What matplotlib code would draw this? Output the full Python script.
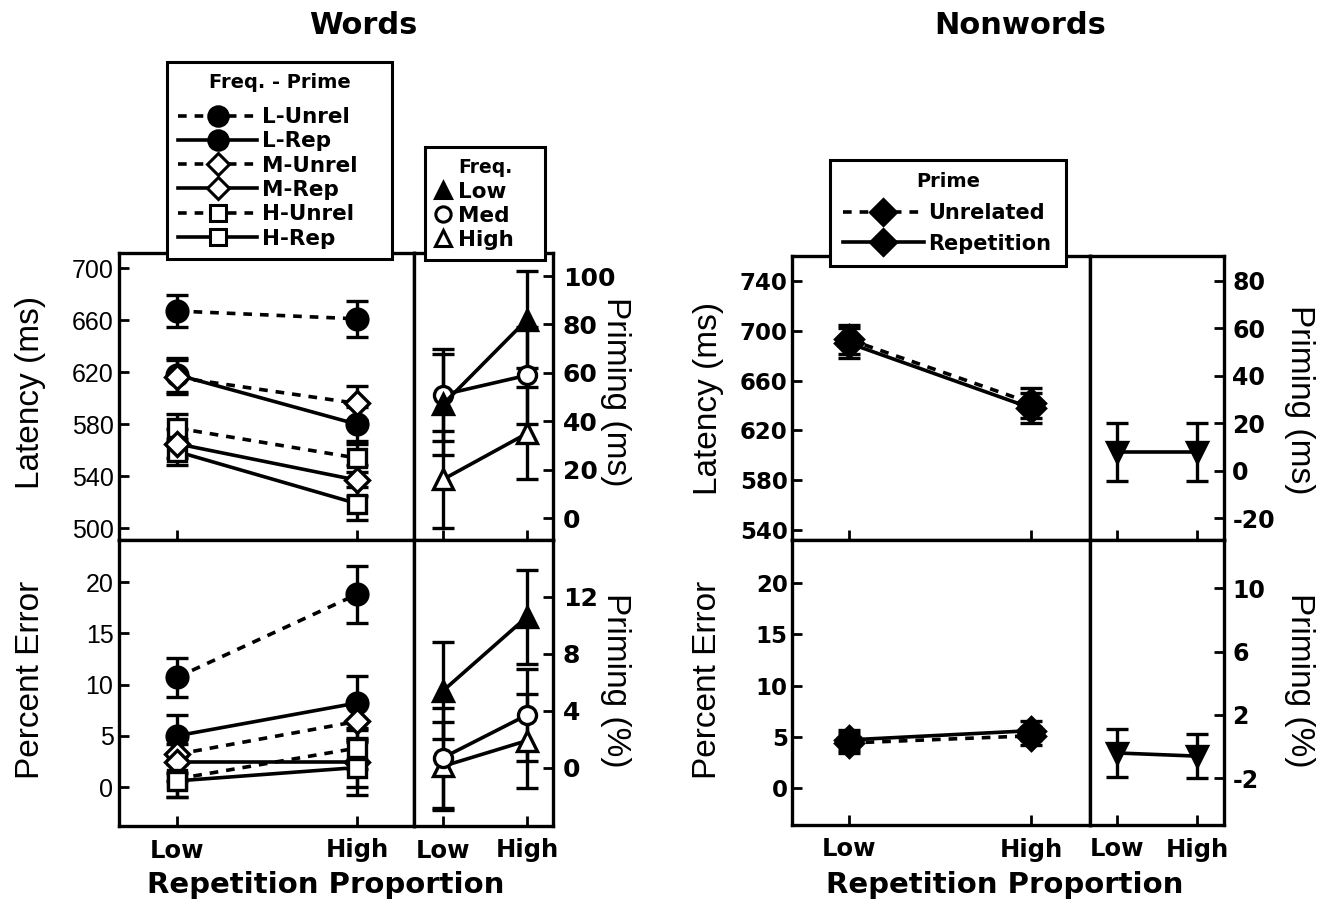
import numpy as np
import matplotlib.pyplot as plt
from matplotlib.lines import Line2D

plt.rcParams['font.family'] = ['DejaVu Sans']
plt.rcParams['font.weight'] = 'bold'
plt.rcParams['axes.unicode_minus'] = False

# x categories
x_labels = ["Low", "High"]
xpos = [0, 1]

# Words - latency (ms), mean and error
rt_l_unrel = [667, 661]
rt_l_unrel_err = [12, 14]
rt_l_rep = [618, 580]
rt_l_rep_err = [13, 13]
rt_m_unrel = [616, 596]
rt_m_unrel_err = [13, 13]
rt_m_rep = [565, 537]
rt_m_rep_err = [11, 12]
rt_h_unrel = [577, 554]
rt_h_unrel_err = [11, 11]
rt_h_rep = [559, 519]
rt_h_rep_err = [10, 13]

# Words - latency priming (ms) by frequency
pr_low = [47, 82]
pr_low_err = [21, 20]
pr_med = [51, 59]
pr_med_err = [19, 20]
pr_high = [16, 35]
pr_high_err = [20, 19]

# Words - percent error
er_l_unrel = [10.7, 18.8]
er_l_unrel_err = [1.9, 2.8]
er_l_rep = [5.0, 8.2]
er_l_rep_err = [2.0, 2.6]
er_m_unrel = [3.2, 6.4]
er_m_unrel_err = [1.8, 2.0]
er_m_rep = [2.4, 2.4]
er_m_rep_err = [1.8, 2.4]
er_h_unrel = [0.8, 3.8]
er_h_unrel_err = [1.8, 2.0]
er_h_rep = [0.6, 1.9]
er_h_rep_err = [1.6, 2.7]

# Words - error priming (%)
pe_low = [5.4, 10.6]
pe_low_err = [3.4, 3.3]
pe_med = [0.7, 3.7]
pe_med_err = [3.5, 3.2]
pe_high = [0.1, 1.9]
pe_high_err = [3.1, 3.3]

# Nonwords
nrt_unrel = [693, 642]
nrt_unrel_err = [12, 12]
nrt_rep = [690, 638]
nrt_rep_err = [12, 12]
npr = [8, 8]
npr_err = [12.3, 12.3]
ner_unrel = [4.4, 5.1]
ner_unrel_err = [1.0, 0.9]
ner_rep = [4.7, 5.6]
ner_rep_err = [1.0, 0.9]
npe = [-0.4, -0.6]
npe_err = [1.5, 1.4]

W, H = 1334, 915
DASH = (0, (2.4, 2.2))


def box(x0, y0, x1, y1):
    return [x0 / W, 1 - y1 / H, (x1 - x0) / W, (y1 - y0) / H]


def style(ax, right=False, xlab=False, ysize=17, yfam='DejaVu Sans', ywt='bold', ypad=4):
    for s in ax.spines.values():
        s.set_linewidth(2.4)
    ax.tick_params(direction='in', length=7, width=2)
    if right:
        ax.yaxis.tick_right()
    ax.tick_params(axis='y', pad=ypad)
    ax.set_xticks(xpos)
    if xlab:
        ax.set_xticklabels(x_labels)
        ax.tick_params(axis='x', pad=9)
    else:
        ax.set_xticklabels([])
    for t in ax.get_xticklabels():
        t.set_fontsize(17.5)
        t.set_fontweight('bold')
    for t in ax.get_yticklabels():
        t.set_fontsize(ysize)
        t.set_fontfamily(yfam)
        t.set_fontweight(ywt)


def series(ax, y, e, marker, ls, face, ms=14):
    ax.errorbar(xpos, y, yerr=e, color='black', ls=ls, lw=2.6, marker=marker,
                ms=ms, mfc=face, mec='black', mew=2.4, capsize=8,
                elinewidth=2.4, capthick=2.4)


fig = plt.figure(figsize=(W / 100, H / 100), dpi=100)

# ---------------- Words ----------------
ax1 = fig.add_axes(box(119, 253, 414, 540))
ax2 = fig.add_axes(box(414, 253, 553, 540))
ax3 = fig.add_axes(box(119, 540, 414, 826))
ax4 = fig.add_axes(box(414, 540, 553, 826))

series(ax1, rt_l_unrel, rt_l_unrel_err, 'o', DASH, 'black', 15)
series(ax1, rt_l_rep, rt_l_rep_err, 'o', '-', 'black', 15)
series(ax1, rt_h_unrel, rt_h_unrel_err, 's', DASH, 'white', 13)
series(ax1, rt_h_rep, rt_h_rep_err, 's', '-', 'white', 13)
series(ax1, rt_m_unrel, rt_m_unrel_err, 'D', DASH, 'white', 12)
series(ax1, rt_m_rep, rt_m_rep_err, 'D', '-', 'white', 12)
ax1.set_xlim(-0.322, 1.317)
ax1.set_ylim(491, 711.6)
ax1.set_yticks([500, 540, 580, 620, 660, 700])
style(ax1, ysize=18, yfam='Liberation Sans', ywt='normal')

series(ax2, pr_high, pr_high_err, '^', '-', 'white', 14)
series(ax2, pr_med, pr_med_err, 'o', '-', 'white', 13)
series(ax2, pr_low, pr_low_err, '^', '-', 'black', 14)
ax2.set_xlim(-0.345, 1.31)
ax2.set_ylim(-9, 109.5)
ax2.set_yticks([0, 20, 40, 60, 80, 100])
style(ax2, right=True, ysize=18, ypad=7)

series(ax3, er_l_unrel, er_l_unrel_err, 'o', DASH, 'black', 15)
series(ax3, er_l_rep, er_l_rep_err, 'o', '-', 'black', 15)
series(ax3, er_m_unrel, er_m_unrel_err, 'D', DASH, 'white', 12)
series(ax3, er_m_rep, er_m_rep_err, 'D', '-', 'white', 12)
series(ax3, er_h_unrel, er_h_unrel_err, 's', DASH, 'white', 13)
series(ax3, er_h_rep, er_h_rep_err, 's', '-', 'white', 13)
ax3.set_xlim(-0.322, 1.317)
ax3.set_ylim(-3.8, 24.1)
ax3.set_yticks([0, 5, 10, 15, 20])
style(ax3, xlab=True, ysize=18, yfam='Liberation Sans', ywt='normal')

series(ax4, pe_high, pe_high_err, '^', '-', 'white', 14)
series(ax4, pe_med, pe_med_err, 'o', '-', 'white', 13)
series(ax4, pe_low, pe_low_err, '^', '-', 'black', 14)
ax4.set_xlim(-0.345, 1.31)
ax4.set_ylim(-4.1, 16)
ax4.set_yticks([0, 4, 8, 12])
style(ax4, right=True, xlab=True, ysize=18, ypad=7)

# ---------------- Nonwords ----------------
ax5 = fig.add_axes(box(792, 256, 1090, 540))
ax6 = fig.add_axes(box(1090, 256, 1224, 540))
ax7 = fig.add_axes(box(792, 540, 1090, 825))
ax8 = fig.add_axes(box(1090, 540, 1224, 825))

series(ax5, nrt_unrel, nrt_unrel_err, 'D', DASH, 'black', 14)
series(ax5, nrt_rep, nrt_rep_err, 'D', '-', 'black', 14)
ax5.set_xlim(-0.313, 1.324)
ax5.set_ylim(532, 760)
ax5.set_yticks([540, 580, 620, 660, 700, 740])
style(ax5, ysize=16.5, ypad=3)

series(ax6, npr, npr_err, 'v', '-', 'black', 14)
ax6.set_xlim(-0.3375, 1.3375)
ax6.set_ylim(-29.2, 90.5)
ax6.set_yticks([-20, 0, 20, 40, 60, 80])
style(ax6, right=True, ysize=17, ypad=6)

series(ax7, ner_unrel, ner_unrel_err, 'D', DASH, 'black', 14)
series(ax7, ner_rep, ner_rep_err, 'D', '-', 'black', 14)
ax7.set_xlim(-0.313, 1.324)
ax7.set_ylim(-3.6, 24.2)
ax7.set_yticks([0, 5, 10, 15, 20])
style(ax7, xlab=True, ysize=16.5, ypad=3)

series(ax8, npe, npe_err, 'v', '-', 'black', 14)
ax8.set_xlim(-0.3375, 1.3375)
ax8.set_ylim(-4.95, 13.05)
ax8.set_yticks([-2, 2, 6, 10])
style(ax8, right=True, xlab=True, ysize=17, ypad=6)

# ---------------- legends ----------------
def handle(marker, ls, face, ms):
    return Line2D([], [], color='black', ls=ls, lw=2.6, marker=marker, ms=ms,
                  mfc=face, mec='black', mew=2.2)


def make_legend(handles, labels, title, x0, y0, x1, size, tsize, hlen, lspace, bpad, tsep,
                tpad=0.2):
    anchor = (x0 / W, 1 - y0 / H - 0.3, (x1 - x0) / W, 0.3)
    lg = fig.legend(handles, labels, loc='upper left', bbox_to_anchor=anchor,
                    mode='expand', borderaxespad=0, title=title,
                    frameon=True, fancybox=False, edgecolor='black', framealpha=1,
                    handlelength=hlen, handletextpad=tpad, labelspacing=lspace,
                    borderpad=bpad, prop={'weight': 'bold', 'size': size},
                    title_fontsize=tsize)
    lg.get_frame().set_linewidth(2.2)
    lg.get_title().set_fontweight('bold')
    lg._legend_box.sep = tsep
    return lg


h1 = [handle('o', DASH, 'black', 14), handle('o', '-', 'black', 14),
      handle('D', DASH, 'white', 11), handle('D', '-', 'white', 11),
      handle('s', DASH, 'white', 12), handle('s', '-', 'white', 12)]
lab1 = ["L-Unrel", "L-Rep", "M-Unrel", "M-Rep", "H-Unrel", "H-Rep"]
make_legend(h1, lab1, "Freq. - Prime", 167, 62, 392, 15.5, 14, 3.7, 0.2, 0.5, 11)

h2 = [handle('^', 'none', 'black', 12), handle('o', 'none', 'white', 11),
      handle('^', 'none', 'white', 12)]
make_legend(h2, ["Low", "Med", "High"], "Freq.", 425, 147, 545, 15.5, 13.5, 0.7, 0.18, 0.5, 3.6,
            tpad=0.35)

h3 = [handle('D', DASH, 'black', 13), handle('D', '-', 'black', 13)]
make_legend(h3, ["Unrelated", "Repetition"], "Prime", 830, 160, 1066, 15, 14, 3.9, 0.5, 0.6, 8.4)

# ---------------- text ----------------
fig.text(363 / W, 1 - 25 / H, "Words", ha='center', va='center', fontsize=22, fontweight='bold')
fig.text(1020 / W, 1 - 25 / H, "Nonwords", ha='center', va='center', fontsize=22, fontweight='bold')

for cx in (326, 1005):
    fig.text(cx / W, 1 - 893 / H, "Repetition Proportion", ha='center', va='baseline',
             fontsize=21, fontweight='bold')

lab_kw = dict(ha='center', va='center', fontsize=24, fontweight='normal', family='Liberation Sans')
fig.text(31 / W, 1 - 392 / H, "Latency (ms)", rotation=90, **lab_kw)
fig.text(31 / W, 1 - 680 / H, "Percent Error", rotation=90, **lab_kw)
fig.text(615 / W, 1 - 392 / H, "Priming (ms)", rotation=-90, **lab_kw)
fig.text(615 / W, 1 - 680 / H, "Priming (%)", rotation=-90, **lab_kw)

fig.text(708 / W, 1 - 398 / H, "Latency (ms)", rotation=90, **lab_kw)
fig.text(708 / W, 1 - 680 / H, "Percent Error", rotation=90, **lab_kw)
fig.text(1300 / W, 1 - 400 / H, "Priming (ms)", rotation=-90, **lab_kw)
fig.text(1300 / W, 1 - 680 / H, "Priming (%)", rotation=-90, **lab_kw)

fig.savefig("out.png", dpi=100)
